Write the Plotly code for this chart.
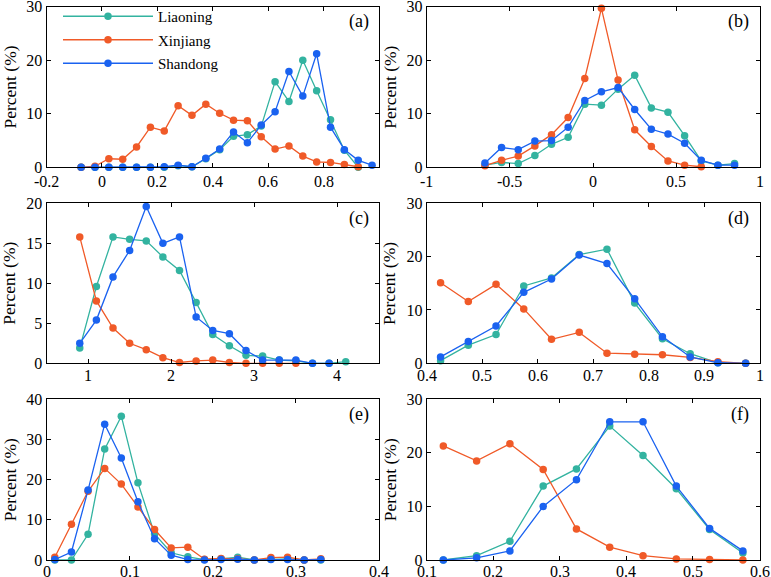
import plotly.graph_objects as go

# ---------------- data ----------------
series_names = ["Liaoning", "Xinjiang", "Shandong"]
series_colors = ["#33B3A0", "#F05A28", "#1A62F0"]

# (a)
a_x = [-0.075, -0.025, 0.025, 0.075, 0.125, 0.175, 0.225, 0.275, 0.325, 0.375, 0.425,
       0.475, 0.525, 0.575, 0.625, 0.675, 0.725, 0.775, 0.825, 0.875, 0.925, 0.975]
a_liaoning = [0, 0, 0, 0, 0, 0, 0, 0.3, 0.1, 1.6, 3.3, 5.8, 6.1, 7.7, 16.0, 12.3, 20.0, 14.3, 8.9, 3.2, 0.0, None]
a_xinjiang = [0, 0.2, 1.6, 1.5, 3.8, 7.5, 6.8, 11.5, 9.7, 11.8, 10.1, 8.8, 8.7, 5.7, 3.4, 4.0, 2.1, 1.0, 0.9, 0.5, 0.1, None]
a_shandong = [0, 0, 0, 0, 0, 0, 0.1, 0.4, 0.1, 1.7, 3.4, 6.6, 4.6, 7.9, 10.4, 17.9, 13.3, 21.2, 7.5, 3.3, 1.3, 0.4]

# (b)
b_x = [-0.65, -0.55, -0.45, -0.35, -0.25, -0.15, -0.05, 0.05, 0.15, 0.25, 0.35, 0.45, 0.55, 0.65, 0.75, 0.85]
b_liaoning = [0.4, 0.9, 0.7, 2.2, 4.3, 5.6, 11.8, 11.6, 14.6, 17.2, 11.1, 10.3, 5.9, 1.2, 0.4, 0.7]
b_xinjiang = [0.3, 1.3, 2.1, 4.0, 6.1, 9.3, 16.6, 29.7, 16.3, 7.0, 3.9, 1.2, 0.4, 0.1, None, None]
b_shandong = [0.8, 3.7, 3.3, 4.9, 5.0, 7.5, 12.5, 14.1, 14.9, 10.8, 7.1, 6.2, 4.5, 1.3, 0.4, 0.4]

# (c)
c_x = [0.9, 1.1, 1.3, 1.5, 1.7, 1.9, 2.1, 2.3, 2.5, 2.7, 2.9, 3.1, 3.3, 3.5, 3.7, 3.9, 4.1]
c_liaoning = [1.9, 9.6, 15.8, 15.5, 15.3, 13.3, 11.6, 7.6, 3.6, 2.2, 1.0, 0.9, 0.4, 0.3, 0.0, 0.0, 0.2]
c_xinjiang = [15.8, 7.8, 4.4, 2.5, 1.7, 0.7, 0.1, 0.3, 0.4, 0.1, 0.0, 0.0, 0.0, 0.0, None, None, None]
c_shandong = [2.5, 5.4, 10.8, 14.1, 19.6, 15.0, 15.8, 5.8, 4.1, 3.7, 1.6, 0.4, 0.4, 0.4, 0.0, 0.0, None]

# (d)
d_x = [0.425, 0.475, 0.525, 0.575, 0.625, 0.675, 0.725, 0.775, 0.825, 0.875, 0.925, 0.975]
d_liaoning = [0.5, 3.4, 5.4, 14.5, 16.0, 20.4, 21.4, 11.3, 4.6, 1.8, 0.1, 0.0]
d_xinjiang = [15.1, 11.6, 14.8, 10.2, 4.5, 5.8, 1.9, 1.7, 1.6, 1.1, 0.3, 0.0]
d_shandong = [1.2, 4.1, 7.0, 13.3, 15.8, 20.3, 18.7, 12.1, 5.0, 1.2, 0.1, 0.0]

# (e)
e_x = [0.01, 0.03, 0.05, 0.07, 0.09, 0.11, 0.13, 0.15, 0.17, 0.19, 0.21, 0.23, 0.25, 0.27, 0.29, 0.31, 0.33]
e_liaoning = [0.0, 0.0, 6.4, 27.6, 35.8, 19.2, 6.5, 1.8, 0.8, 0.1, 0.3, 0.7, 0.0, 0.2, 0.3, 0.0, 0.0]
e_xinjiang = [0.7, 8.9, 17.1, 22.8, 18.9, 13.2, 7.6, 3.0, 3.2, 0.2, 0.4, 0.3, 0.0, 0.6, 0.7, 0.0, 0.3]
e_shandong = [0.1, 2.0, 17.4, 33.8, 25.4, 14.5, 5.3, 1.2, 0.1, 0.0, 0.1, 0.2, 0.0, 0.1, 0.1, 0.0, 0.1]

# (f)
f_x = [0.125, 0.175, 0.225, 0.275, 0.325, 0.375, 0.425, 0.475, 0.525, 0.575]
f_liaoning = [0.0, 0.8, 3.5, 13.8, 17.0, 25.0, 19.5, 13.3, 5.7, 1.3]
f_xinjiang = [21.3, 18.5, 21.7, 16.9, 5.8, 2.4, 0.8, 0.2, 0.1, 0.0]
f_shandong = [0.0, 0.4, 1.7, 10.0, 15.0, 25.8, 25.8, 13.8, 5.9, 1.7]

# tick labels
a_xticks = [-0.2, 0, 0.2, 0.4, 0.6, 0.8]
a_xlabels = ["-0.2", "0", "0.2", "0.4", "0.6", "0.8"]
b_xticks = [-1, -0.5, 0, 0.5, 1]
b_xlabels = ["-1", "-0.5", "0", "0.5", "1"]
c_xticks = [1, 2, 3, 4]
c_xlabels = ["1", "2", "3", "4"]
d_xticks = [0.4, 0.5, 0.6, 0.7, 0.8, 0.9, 1.0]
d_xlabels = ["0.4", "0.5", "0.6", "0.7", "0.8", "0.9", "1"]
e_xticks = [0, 0.1, 0.2, 0.3, 0.4]
e_xlabels = ["0", "0.1", "0.2", "0.3", "0.4"]
f_xticks = [0.1, 0.2, 0.3, 0.4, 0.5, 0.6]
f_xlabels = ["0.1", "0.2", "0.3", "0.4", "0.5", "0.6"]

y30_ticks = [0, 10, 20, 30]
c_yticks = [0, 5, 10, 15, 20]
e_yticks = [0, 10, 20, 30, 40]

panel_labels = ["(a)", "(b)", "(c)", "(d)", "(e)", "(f)"]
y_title = "Percent (%)"

panels = [
    dict(x=a_x, ys=[a_liaoning, a_xinjiang, a_shandong], xr=[-0.2, 1.0], xt=a_xticks, xl=a_xlabels, yr=[0, 30], yt=y30_ticks),
    dict(x=b_x, ys=[b_liaoning, b_xinjiang, b_shandong], xr=[-1, 1], xt=b_xticks, xl=b_xlabels, yr=[0, 30], yt=y30_ticks),
    dict(x=c_x, ys=[c_liaoning, c_xinjiang, c_shandong], xr=[0.5, 4.5], xt=c_xticks, xl=c_xlabels, yr=[0, 20], yt=c_yticks),
    dict(x=d_x, ys=[d_liaoning, d_xinjiang, d_shandong], xr=[0.4, 1.0], xt=d_xticks, xl=d_xlabels, yr=[0, 30], yt=y30_ticks),
    dict(x=e_x, ys=[e_liaoning, e_xinjiang, e_shandong], xr=[0, 0.4], xt=e_xticks, xl=e_xlabels, yr=[0, 40], yt=e_yticks),
    dict(x=f_x, ys=[f_liaoning, f_xinjiang, f_shandong], xr=[0.1, 0.6], xt=f_xticks, xl=f_xlabels, yr=[0, 30], yt=y30_ticks),
]

# ---------------- layout geometry ----------------
W, H = 771, 577
col_dom = [[46.5 / W, 379 / W], [426.7 / W, 759.5 / W]]
row_dom = [[1 - 167.3 / H, 1 - 6.7 / H], [1 - 363.3 / H, 1 - 203.3 / H], [1 - 560 / H, 1 - 399.3 / H]]
row_label_shift = [-14, -12.5, -11.5]

FONT = "Liberation Serif, Times New Roman, serif"
TICK_SIZE = 16

fig = go.Figure()
annotations = []
layout = dict(
    width=W, height=H,
    margin=dict(l=0, r=0, t=0, b=0, autoexpand=False),
    paper_bgcolor="white", plot_bgcolor="white",
    font=dict(family=FONT, size=16, color="black"),
    showlegend=True,
    legend=dict(x=58 / W, y=1.0, xanchor="left", yanchor="top",
                bgcolor="rgba(255,255,255,0)", font=dict(family=FONT, size=15),
                itemwidth=90, tracegroupgap=1, traceorder="grouped"),
)

for i, p in enumerate(panels):
    r, c = i // 2, i % 2
    k = i + 1
    xa = "x" if k == 1 else f"x{k}"
    ya = "y" if k == 1 else f"y{k}"
    for s in range(3):
        fig.add_trace(go.Scatter(
            x=p["x"], y=p["ys"][s], mode="lines+markers",
            name=series_names[s], showlegend=(i == 0), legendgroup=series_names[s],
            line=dict(color=series_colors[s], width=1.3),
            marker=dict(color=series_colors[s], size=7.5),
            connectgaps=False,
            xaxis=xa, yaxis=ya, cliponaxis=False,
        ))
    axcommon = dict(showline=True, linecolor="black", linewidth=1, mirror="ticks",
                    ticks="inside", ticklen=4, tickcolor="black", showgrid=False,
                    zeroline=False, automargin=False, ticklabeloverflow="allow",
                    tickfont=dict(family=FONT, size=TICK_SIZE, color="black"))
    layout[f"xaxis{'' if k == 1 else k}"] = dict(
        domain=col_dom[c], range=p["xr"], anchor=ya, tickmode="array",
        tickvals=p["xt"], ticktext=p["xl"], showticklabels=False, **axcommon)
    layout[f"yaxis{'' if k == 1 else k}"] = dict(
        domain=row_dom[r], range=p["yr"], anchor=xa, tickmode="array",
        tickvals=p["yt"], ticktext=[str(v) for v in p["yt"]], **axcommon)
    # x tick labels, placed on the axis scale just below the axis line
    for tv, tl in zip(p["xt"], p["xl"]):
        annotations.append(dict(
            text=tl, xref=xa, yref=f"{ya} domain", x=tv, y=0,
            xanchor="center", yanchor="middle", yshift=row_label_shift[r], showarrow=False,
            font=dict(family=FONT, size=TICK_SIZE, color="black")))
    # y axis title
    annotations.append(dict(
        text=y_title, xref=f"{xa} domain", yref=f"{ya} domain", x=0, y=0.5,
        xanchor="center", yanchor="middle", xshift=-37, textangle=-90,
        showarrow=False, font=dict(family=FONT, size=17.5, color="black")))
    # panel label
    annotations.append(dict(
        text=panel_labels[i], xref=f"{xa} domain", yref=f"{ya} domain",
        x=0.975, y=0.985, xanchor="right", yanchor="top", showarrow=False,
        font=dict(family=FONT, size=18, color="black")))

layout["annotations"] = annotations
fig.update_layout(**layout)
fig.write_html(
    "out.html",
    config={"displayModeBar": False},
    post_script="document.body.style.margin='0';document.body.style.padding='0';"
                "document.body.style.overflow='hidden';",
)
